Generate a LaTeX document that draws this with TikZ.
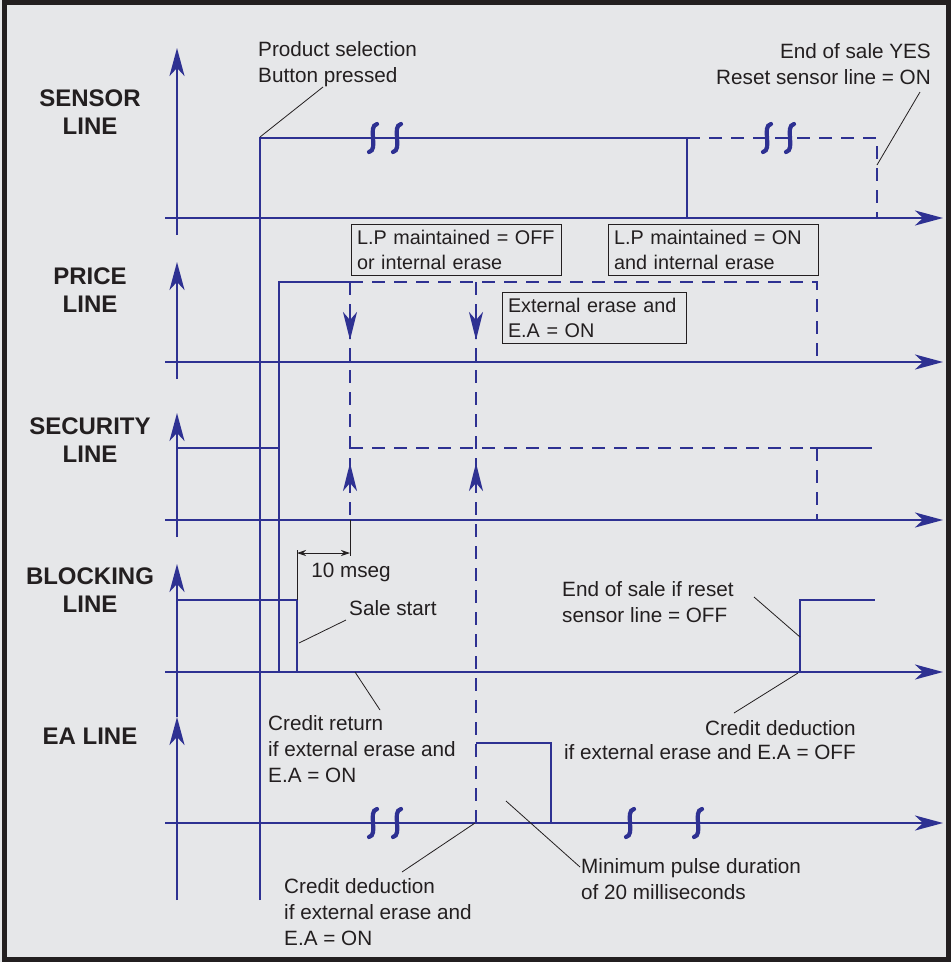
\documentclass[tikz,border=0pt]{standalone}
\usepackage{fontspec}
\setmainfont{Liberation Sans}
\definecolor{SigBlue}{HTML}{2E3192}
\definecolor{InkDark}{HTML}{231F20}
\definecolor{PanelGrey}{HTML}{E6E7E9}
\usetikzlibrary{arrows.meta}

\begin{document}
\begin{tikzpicture}[x=1pt, y=-1pt,
    sig/.style={SigBlue, line width=2.6pt},
    dsig/.style={sig, dash pattern=on 13pt off 9pt},
    axis/.style={sig, -{Stealth[length=28pt, width=15pt, inset=8pt]}},
    flow/.style={sig, -{Stealth[length=28pt, width=14pt, inset=8pt]}},
    brk/.style={SigBlue, line width=4.2pt, line cap=round},
    note/.style={font=\fontsize{20.7}{26}\selectfont, text=InkDark,
                 inner sep=0pt, align=left},
    lbl/.style={font=\fontsize{24}{28}\selectfont\bfseries, text=InkDark,
                align=center},
    box/.style={note, font=\fontsize{19.8}{25}\selectfont, draw=InkDark,
                line width=1pt, inner xsep=6pt, inner ysep=3pt,
                minimum height=51pt},
    lead/.style={InkDark, line width=0.8pt},
    dimen/.style={InkDark, line width=0.8pt}]

  \useasboundingbox (0,0) rectangle (951,962);
  \fill[PanelGrey] (0,0) rectangle (951,962);
  \draw[InkDark, line width=5pt] (4.5,2.5) rectangle (948.5,959.5);

  % line names
  \node[lbl] (sensorlbl) at (90,112) {SENSOR\\LINE};
  \node[lbl] (pricelbl) at (90,290.5) {PRICE\\LINE};
  \node[lbl] (securitylbl) at (90,440) {SECURITY\\LINE};
  \node[lbl] (blockinglbl) at (90,590) {BLOCKING\\LINE};
  \node[lbl] (ealbl) at (90,736) {EA LINE};

  % axes
  \draw[axis] (177,235) -- (177,48);
  \draw[axis] (165,218) -- (943,218);
  \draw[axis] (177,379) -- (177,262);
  \draw[axis] (165,362) -- (943,362);
  \draw[axis] (177,537) -- (177,413);
  \draw[axis] (165,520) -- (943,520);
  \draw[axis] (177,717) -- (177,564);
  \draw[axis] (165,672) -- (943,672);
  \draw[axis] (177,900) -- (177,717);
  \draw[axis] (165,823) -- (943,823);

  % sensor line
  \draw[sig] (260,900) -- (260,138) -- (687,138) -- (687,218);
  \draw[dsig] (687,138) -- (877,138) -- (877,218);

  % price line
  \draw[sig] (279,672) -- (279,282) -- (350,282);
  \draw[dsig] (350,282) -- (817,282) -- (817,362);
  \draw[dsig] (350,282) -- (350,520);
  \draw[dsig] (476,282) -- (476,823);
  \draw[flow] (350,314) -- (350,340);
  \draw[flow] (476,314) -- (476,340);
  \draw[flow] (350,489) -- (350,463);
  \draw[flow] (476,489) -- (476,463);

  % security line
  \draw[sig] (177,448) -- (279,448);
  \draw[dsig] (350,448) -- (810,448);
  \draw[sig] (810,448) -- (872,448);
  \draw[dsig] (817,448) -- (817,520);

  % blocking line
  \draw[sig] (177,600) -- (297,600) -- (297,672);
  \draw[sig] (800,672) -- (800,600) -- (875,600);

  % EA line
  \draw[sig] (476,743) -- (551,743) -- (551,823);

  % break marks
  \foreach \bx/\by in {373/138, 397/138, 767/138, 790/138,
                       373/823, 397/823, 630/823, 698/823}
    \draw[brk] (\bx+4,\by-14) .. controls (\bx-6,\by-12)
               and (\bx+6,\by+12) .. (\bx-4,\by+14);

  % 10 mseg
  \draw[dimen] (297,550) -- (297,600);
  \draw[dimen] (350,520) -- (350,556);
  \draw[dimen, {Stealth[length=9pt, width=6pt]}-{Stealth[length=9pt, width=6pt]}]
    (297,553) -- (350,553);

  % boxes
  \node[box, text width=198pt] (offbox) at (456,249.5)
    {L.P maintained = OFF\\or internal erase};
  \node[box, text width=198pt] (onbox) at (713,249.5)
    {L.P maintained = ON\\and internal erase};
  \node[box, text width=172pt] (extbox) at (594,317.5)
    {External erase and\\E.A = ON};

  % notes
  \node[note, anchor=west] (selnote) at (258,64)
    {Product selection\\Button pressed};
  \node[note, anchor=east, align=right] (eosnote) at (931,64)
    {End of sale YES\\Reset sensor line = ON};
  \node[note] (msnote) at (351,572) {10 mseg};
  \node[note, anchor=west] (salenote) at (349,608) {Sale start};
  \node[note, anchor=west] (retnote) at (268,749)
    {Credit return\\if external erase and\\E.A = ON};
  \node[note, anchor=west] (resetnote) at (562,602)
    {End of sale if reset\\sensor line = OFF};
  \node[note, anchor=east, align=right, font=\fontsize{20.7}{24}\selectfont]
    (dedoffnote) at (856,740)
    {Credit deduction\\if external erase and E.A = OFF};
  \node[note, anchor=west] (pulsenote) at (581,879)
    {Minimum pulse duration\\of 20 milliseconds};
  \node[note, anchor=west] (dedonnote) at (284,912)
    {Credit deduction\\if external erase and\\E.A = ON};

  % leaders
  \coordinate (selpt) at (260,137);   \coordinate (selend) at (323,87);
  \coordinate (eospt) at (877,165);   \coordinate (eosend) at (920,92);
  \coordinate (salept) at (299,643);  \coordinate (saleend) at (346,620);
  \coordinate (retpt) at (355,672);   \coordinate (retend) at (380,710);
  \coordinate (resetpt) at (800,637); \coordinate (resetend) at (754,597);
  \coordinate (dedoffpt) at (798,673);\coordinate (dedoffend) at (734,713);
  \coordinate (pulsept) at (506,801); \coordinate (pulseend) at (580,867);
  \coordinate (dedonpt) at (475,823); \coordinate (dedonend) at (402,872);

  \draw[lead] (selpt) -- (selend);
  \draw[lead] (eospt) -- (eosend);
  \draw[lead] (salept) -- (saleend);
  \draw[lead] (retpt) -- (retend);
  \draw[lead] (resetpt) -- (resetend);
  \draw[lead] (dedoffpt) -- (dedoffend);
  \draw[lead] (pulsept) -- (pulseend);
  \draw[lead] (dedonpt) -- (dedonend);
\end{tikzpicture}
\end{document}
